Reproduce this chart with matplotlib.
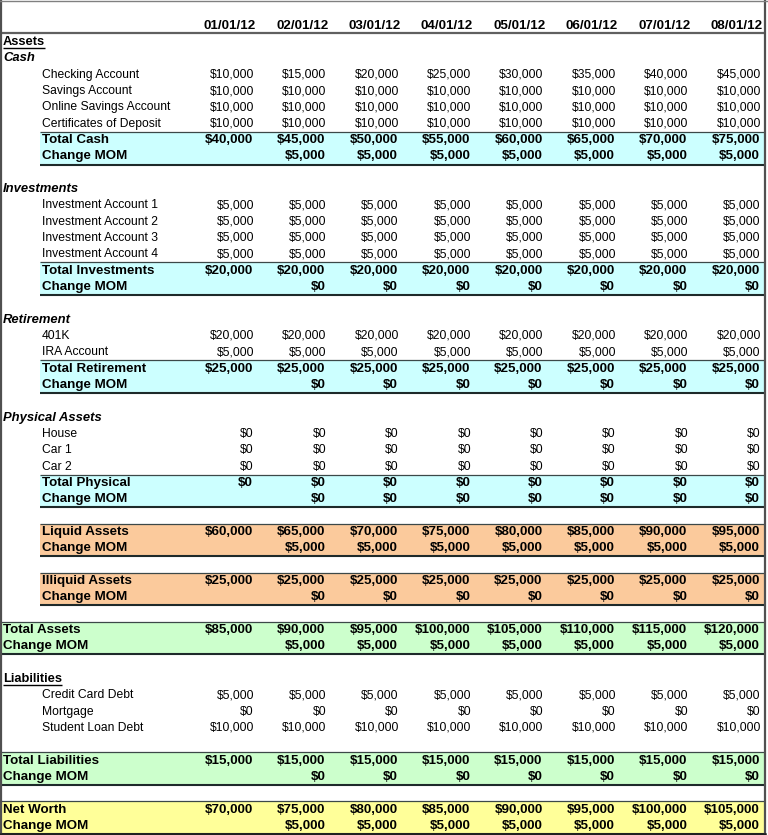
import matplotlib
matplotlib.use("Agg")
import matplotlib.pyplot as plt
from matplotlib.patches import Rectangle

plt.rcParams['font.family'] = ['Liberation Sans', 'DejaVu Sans']

# ---------------- data ----------------
dates = ['01/01/12', '02/01/12', '03/01/12', '04/01/12',
         '05/01/12', '06/01/12', '07/01/12', '08/01/12']

checking = [10000, 15000, 20000, 25000, 30000, 35000, 40000, 45000]
savings = [10000, 10000, 10000, 10000, 10000, 10000, 10000, 10000]
online_savings = [10000, 10000, 10000, 10000, 10000, 10000, 10000, 10000]
cds = [10000, 10000, 10000, 10000, 10000, 10000, 10000, 10000]
total_cash = [40000, 45000, 50000, 55000, 60000, 65000, 70000, 75000]
cash_mom = [None, 5000, 5000, 5000, 5000, 5000, 5000, 5000]

inv1 = [5000, 5000, 5000, 5000, 5000, 5000, 5000, 5000]
inv2 = [5000, 5000, 5000, 5000, 5000, 5000, 5000, 5000]
inv3 = [5000, 5000, 5000, 5000, 5000, 5000, 5000, 5000]
inv4 = [5000, 5000, 5000, 5000, 5000, 5000, 5000, 5000]
total_inv = [20000, 20000, 20000, 20000, 20000, 20000, 20000, 20000]
inv_mom = [None, 0, 0, 0, 0, 0, 0, 0]

k401 = [20000, 20000, 20000, 20000, 20000, 20000, 20000, 20000]
ira = [5000, 5000, 5000, 5000, 5000, 5000, 5000, 5000]
total_ret = [25000, 25000, 25000, 25000, 25000, 25000, 25000, 25000]
ret_mom = [None, 0, 0, 0, 0, 0, 0, 0]

house = [0, 0, 0, 0, 0, 0, 0, 0]
car1 = [0, 0, 0, 0, 0, 0, 0, 0]
car2 = [0, 0, 0, 0, 0, 0, 0, 0]
total_phys = [0, 0, 0, 0, 0, 0, 0, 0]
phys_mom = [None, 0, 0, 0, 0, 0, 0, 0]

liquid = [60000, 65000, 70000, 75000, 80000, 85000, 90000, 95000]
liquid_mom = [None, 5000, 5000, 5000, 5000, 5000, 5000, 5000]
illiquid = [25000, 25000, 25000, 25000, 25000, 25000, 25000, 25000]
illiquid_mom = [None, 0, 0, 0, 0, 0, 0, 0]

total_assets = [85000, 90000, 95000, 100000, 105000, 110000, 115000, 120000]
assets_mom = [None, 5000, 5000, 5000, 5000, 5000, 5000, 5000]

credit_card = [5000, 5000, 5000, 5000, 5000, 5000, 5000, 5000]
mortgage = [0, 0, 0, 0, 0, 0, 0, 0]
student_loan = [10000, 10000, 10000, 10000, 10000, 10000, 10000, 10000]
total_liab = [15000, 15000, 15000, 15000, 15000, 15000, 15000, 15000]
liab_mom = [None, 0, 0, 0, 0, 0, 0, 0]

net_worth = [70000, 75000, 80000, 85000, 90000, 95000, 100000, 105000]
nw_mom = [None, 5000, 5000, 5000, 5000, 5000, 5000, 5000]

# (label, kind, values, indented)
rows = [
    ('Assets', 'uheader', None, False),
    ('Cash', 'section', None, False),
    ('Checking Account', 'item', checking, True),
    ('Savings Account', 'item', savings, True),
    ('Online Savings Account', 'item', online_savings, True),
    ('Certificates of Deposit', 'item', cds, True),
    ('Total Cash', 'total', total_cash, True),
    ('Change MOM', 'total', cash_mom, True),
    ('', 'blank', None, False),
    ('Investments', 'section', None, False),
    ('Investment Account 1', 'item', inv1, True),
    ('Investment Account 2', 'item', inv2, True),
    ('Investment Account 3', 'item', inv3, True),
    ('Investment Account 4', 'item', inv4, True),
    ('Total Investments', 'total', total_inv, True),
    ('Change MOM', 'total', inv_mom, True),
    ('', 'blank', None, False),
    ('Retirement', 'section', None, False),
    ('401K', 'item', k401, True),
    ('IRA Account', 'item', ira, True),
    ('Total Retirement', 'total', total_ret, True),
    ('Change MOM', 'total', ret_mom, True),
    ('', 'blank', None, False),
    ('Physical Assets', 'section', None, False),
    ('House', 'item', house, True),
    ('Car 1', 'item', car1, True),
    ('Car 2', 'item', car2, True),
    ('Total Physical', 'total', total_phys, True),
    ('Change MOM', 'total', phys_mom, True),
    ('', 'blank', None, False),
    ('Liquid Assets', 'total', liquid, True),
    ('Change MOM', 'total', liquid_mom, True),
    ('', 'blank', None, False),
    ('Illiquid Assets', 'total', illiquid, True),
    ('Change MOM', 'total', illiquid_mom, True),
    ('', 'blank', None, False),
    ('Total Assets', 'total', total_assets, False),
    ('Change MOM', 'total', assets_mom, False),
    ('', 'blank', None, False),
    ('Liabilities', 'uheader', None, False),
    ('Credit Card Debt', 'item', credit_card, True),
    ('Mortgage', 'item', mortgage, True),
    ('Student Loan Debt', 'item', student_loan, True),
    ('', 'blank', None, False),
    ('Total Liabilities', 'total', total_liab, False),
    ('Change MOM', 'total', liab_mom, False),
    ('', 'blank', None, False),
    ('Net Worth', 'total', net_worth, False),
    ('Change MOM', 'total', nw_mom, False),
]

# colored bands: (first row index in rows list, color, indented)
CYAN, ORANGE, GREEN, YELLOW = '#CCFFFF', '#FBCA9C', '#CCFFCC', '#FFFF99'
bands = [(6, CYAN, True), (14, CYAN, True), (20, CYAN, True), (27, CYAN, True),
         (30, ORANGE, True), (33, ORANGE, True),
         (36, GREEN, False), (44, GREEN, False), (47, YELLOW, False)]

# ---------------- layout ----------------
W, H = 768, 835
fig = plt.figure(figsize=(W / 100, H / 100), dpi=100)
ax = fig.add_axes([0, 0, 1, 1])
ax.set_xlim(0, W)
ax.set_ylim(H, 0)
ax.axis('off')

ROW_H = 16.33
Y0 = 25.7            # header row centre
COL_RIGHT0 = 254.0
COL_W = 72.4
X_SEC = 3
X_IND = 42
X_RIGHT = 765

REG = 8.7
BOLD = 9.6


def row_y(k):
    return Y0 + ROW_H * k


def fmt(v):
    return '' if v is None else '${:,.0f}'.format(v)


# bands
for idx, color, ind in bands:
    k = idx + 1
    top = row_y(k) - ROW_H / 2
    bot = row_y(k + 1) + ROW_H / 2
    x0 = X_IND - 2 if ind else 0
    ax.add_patch(Rectangle((x0, top), X_RIGHT - x0, bot - top, facecolor=color,
                           edgecolor='none', zorder=1))
    ax.plot([x0, X_RIGHT], [top, top], color='#3c4848', lw=0.9, zorder=2,
            solid_capstyle='butt')
    ax.plot([x0, X_RIGHT], [bot, bot], color='#1e2a2a', lw=1.5, zorder=2,
            solid_capstyle='butt')

# header
for i, d in enumerate(dates):
    ax.text(COL_RIGHT0 + 2 + COL_W * i, row_y(0), d, ha='right', va='center',
            fontsize=9.6, fontweight='bold', zorder=3)
hdr_line = row_y(0) + ROW_H / 2 - 0.5
ax.plot([0, X_RIGHT], [hdr_line, hdr_line], color='#606060', lw=1.6, zorder=2,
        solid_capstyle='butt')

# rows
underline_texts = []
for r, (label, kind, vals, ind) in enumerate(rows):
    k = r + 1
    y = row_y(k)
    x = X_IND if ind else X_SEC
    if kind == 'uheader':
        t = ax.text(x, y, label, ha='left', va='center', fontsize=9.3,
                    fontweight='bold', zorder=3)
        underline_texts.append((t, y))
    elif kind == 'section':
        ax.text(x, y, label, ha='left', va='center', fontsize=9.4,
                fontweight='bold', fontstyle='italic', zorder=3)
    elif kind == 'item':
        ax.text(x, y, label, ha='left', va='center', fontsize=REG, zorder=3)
    elif kind == 'total':
        ax.text(x, y, label, ha='left', va='center', fontsize=BOLD,
                fontweight='bold', zorder=3)
    if vals is not None:
        for i, v in enumerate(vals):
            if kind == 'total':
                ax.text(COL_RIGHT0 - 1 + COL_W * i, y, fmt(v), ha='right',
                        va='center', fontsize=BOLD, fontweight='bold', zorder=3)
            else:
                ax.text(COL_RIGHT0 + COL_W * i, y, fmt(v), ha='right',
                        va='center', fontsize=REG, zorder=3)

# underline headers
fig.canvas.draw()
renderer = fig.canvas.get_renderer()
inv = ax.transData.inverted()
for t, y in underline_texts:
    bb = t.get_window_extent(renderer)
    (x0, _), (x1, _) = inv.transform([[bb.x0, bb.y0], [bb.x1, bb.y1]])
    ax.plot([x0, x1], [y + 6.4, y + 6.4], color='black', lw=1.0, zorder=3,
            solid_capstyle='butt')

# outer frame
ax.plot([1, 1], [0, H], color='#505050', lw=1.6, zorder=4)
ax.plot([X_RIGHT, X_RIGHT], [0, H], color='#505050', lw=1.6, zorder=4)
ax.plot([0, W], [0.5, 0.5], color='#808080', lw=1.0, zorder=4)
ax.plot([0, X_RIGHT], [H - 1, H - 1], color='#202020', lw=1.8, zorder=4)

fig.savefig('out.png', dpi=100, facecolor='white')
